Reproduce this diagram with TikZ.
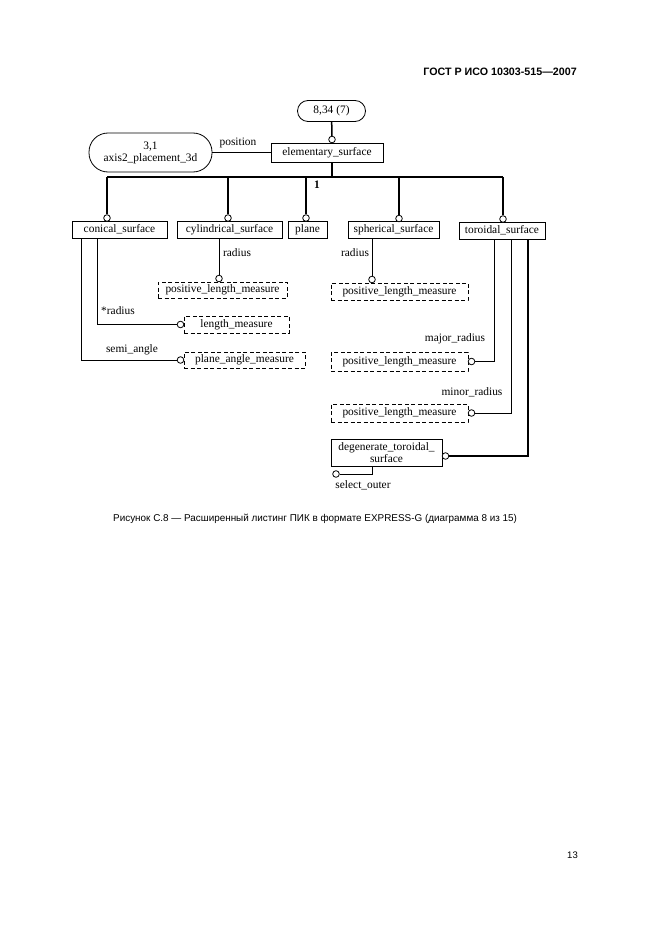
\documentclass[tikz,border=0pt]{standalone}
\usepackage{fontspec}
\setmainfont{Liberation Serif}
\newfontfamily\hdrfont{Liberation Sans}
\begin{document}
\begin{tikzpicture}[x=1pt,y=-1pt,
  box/.style={draw,line width=0.8pt,inner sep=0pt,font=\fontsize{11.4}{13}\selectfont},
  dbox/.style={box,dash pattern=on 4pt off 2.5pt},
  oc/.style={circle,draw,fill=white,line width=0.8pt,inner sep=0pt,minimum size=6.6pt},
  thk/.style={line width=1.5pt},
  thn/.style={line width=0.8pt},
  lbl/.style={font=\fontsize{11.4}{13}\selectfont,inner sep=0pt}]
\useasboundingbox (0,0) rectangle (661,936);
\fill[white] (0,0) rectangle (661,936);

% header, caption, page number
\node[anchor=east,inner sep=0pt,font=\hdrfont\bfseries\fontsize{10.7}{13}\selectfont] (hdr) at (577,72) {ГОСТ Р ИСО 10303-515—2007};
\node[anchor=west,inner sep=0pt,font=\hdrfont\fontsize{9.9}{11}\selectfont] (cap) at (113,519) {Рисунок С.8 — Расширенный листинг ПИК в формате EXPRESS-G (диаграмма 8 из 15)};
\node[anchor=east,inner sep=0pt,font=\hdrfont\fontsize{9.5}{11}\selectfont] (pg) at (578,855) {13};

% boxes
\node[box,rounded corners=10.5pt,minimum width=68pt,minimum height=21pt] (top) at (331.5,111) {8,34 (7)};
\node[box,rounded corners=19pt,minimum width=123pt,minimum height=39pt,align=center,font=\fontsize{11.4}{12}\selectfont] (axis) at (150.5,152.5) {3,1\\axis2\_placement\_3d};
\node[box,minimum width=112pt,minimum height=19pt] (es) at (327,152.5) {elementary\_surface};

\node[box,minimum width=95pt,minimum height=17pt] (cs) at (119.5,229.5) {conical\_surface};
\node[box,minimum width=105pt,minimum height=17pt] (cyl) at (229.5,229.5) {cylindrical\_surface};
\node[box,minimum width=39pt,minimum height=17pt] (pln) at (307.5,229.5) {plane};
\node[box,minimum width=91pt,minimum height=17pt] (sph) at (393.5,230) {spherical\_surface};
\node[box,minimum width=86pt,minimum height=17pt] (tor) at (502,230.5) {toroidal\_surface};

\node[dbox,minimum width=129pt,minimum height=16pt] (pl1) at (222.5,290) {positive\_length\_measure};
\node[dbox,minimum width=137pt,minimum height=17pt] (pl2) at (399.5,291.5) {positive\_length\_measure};
\node[dbox,minimum width=105pt,minimum height=17pt] (lm) at (236.5,324.5) {length\_measure};
\node[dbox,minimum width=121pt,minimum height=16pt] (pam) at (244.5,360) {plane\_angle\_measure};
\node[dbox,minimum width=137pt,minimum height=19pt] (pl3) at (399.5,361.5) {positive\_length\_measure};
\node[dbox,minimum width=137pt,minimum height=18pt] (pl4) at (399.5,413) {positive\_length\_measure};
\node[box,minimum width=111pt,minimum height=27pt,align=center,font=\fontsize{11.4}{11.5}\selectfont] (dts) at (386.5,452.5) {degenerate\_toroidal\_\\surface};

% circles
\node[oc] (ctop) at (332,139.5) {};
\node[oc] (c1) at (107,218) {};
\node[oc] (c2) at (228,218) {};
\node[oc] (c3) at (306,218) {};
\node[oc] (c4) at (399,218.5) {};
\node[oc] (c5) at (503,219) {};
\node[oc] (cr1) at (219,278.5) {};
\node[oc] (cr2) at (372,279.5) {};
\node[oc] (clm) at (180.5,324.5) {};
\node[oc] (cpam) at (180.5,360) {};
\node[oc] (cmaj) at (471.5,361.5) {};
\node[oc] (cmin) at (471.5,413) {};
\node[oc] (cdts) at (445.5,456) {};
\node[oc] (cso) at (336,474) {};

% helper coordinates
\coordinate (bus) at (0,177);
\coordinate (kA) at (81,0);
\coordinate (kB) at (97,0);
\coordinate (tA) at (494,0);
\coordinate (tB) at (511,0);
\coordinate (tC) at (528,0);
\coordinate (sx) at (372,0);

% connectors
\draw[thk] (top) -- (ctop);
\draw[thn] (axis) -- (es);
\draw[thk] (ctop |- es.south) -- (ctop |- bus);
\draw[thk] (c1 |- bus) -- (c5 |- bus);
\foreach \c in {c1,c2,c3,c4,c5} \draw[thk] (\c |- bus) -- (\c);
\draw[thn] (cr1 |- cyl.south) -- (cr1);
\draw[thn] (cr2 |- sph.south) -- (cr2);
\draw[thn] (kB |- cs.south) -- (kB |- clm) -- (clm);
\draw[thn] (kA |- cs.south) -- (kA |- cpam) -- (cpam);
\draw[thn] (tA |- tor.south) -- (tA |- cmaj) -- (cmaj);
\draw[thn] (tB |- tor.south) -- (tB |- cmin) -- (cmin);
\draw[thk] (tC |- tor.south) -- (tC |- cdts) -- (cdts);
\draw[thn] (sx |- dts.south) -- (sx |- cso) -- (cso);

% labels
\node[lbl] (lpos) at (238,143) {position};
\node[lbl,font=\bfseries\fontsize{11.4}{13}\selectfont] (lone) at (317,185) {1};
\node[lbl] (lr1) at (237,253) {radius};
\node[lbl] (lr2) at (355,253) {radius};
\node[lbl] (lr3) at (118,311) {*radius};
\node[lbl] (lsa) at (132,350) {semi\_angle};
\node[lbl] (lmaj) at (455,339) {major\_radius};
\node[lbl] (lmin) at (472,392) {minor\_radius};
\node[lbl] (lso) at (363,485) {select\_outer};
\end{tikzpicture}
\end{document}
